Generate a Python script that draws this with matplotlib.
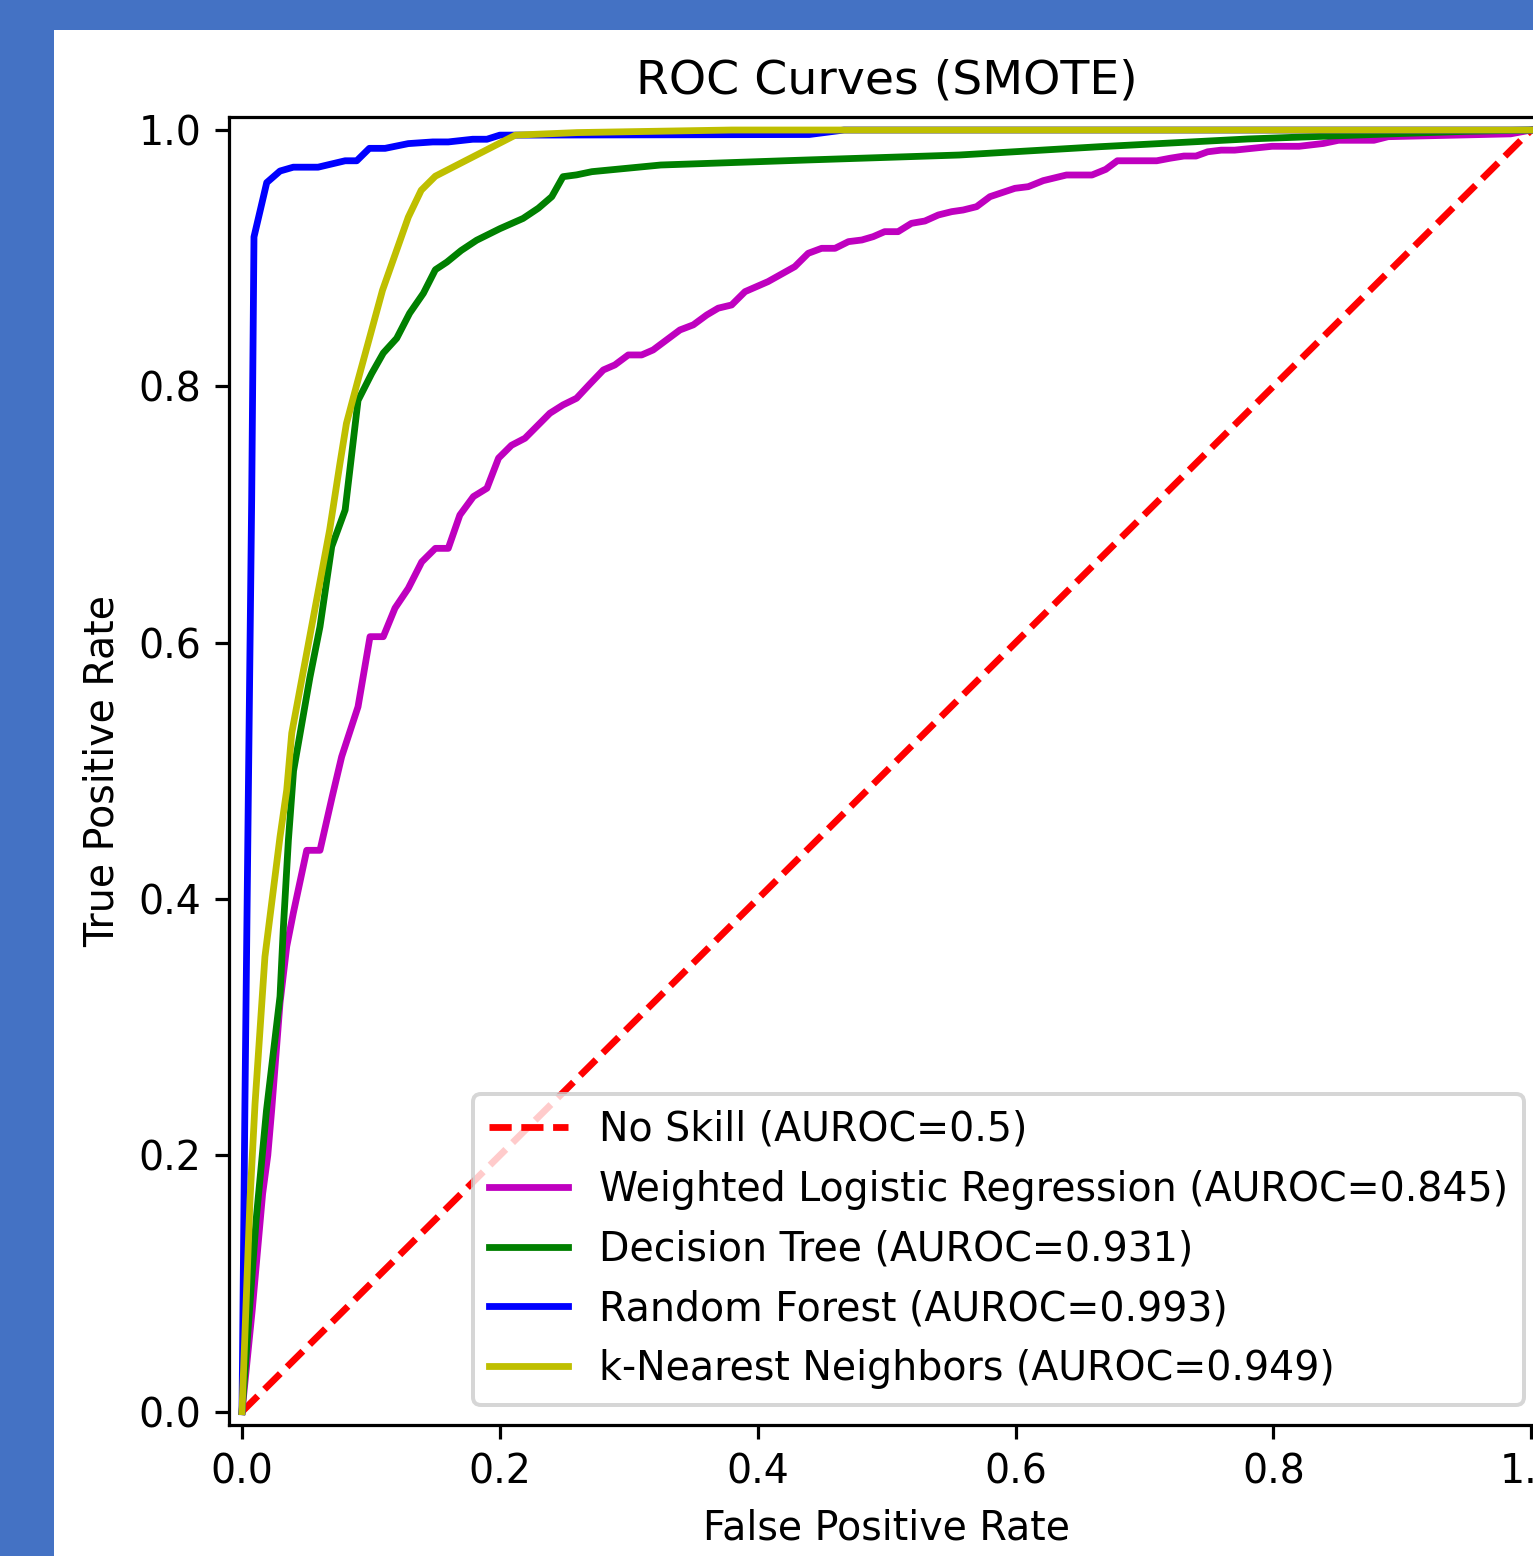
import matplotlib
matplotlib.use("Agg")
import matplotlib.pyplot as plt
from matplotlib.patches import Rectangle

# ---------------- data ----------------
noskill_fpr = [0.0, 1.0]
noskill_tpr = [0.0, 1.0]

wlr_fpr = [0.0, 0.008, 0.016, 0.020, 0.023, 0.0295, 0.0347, 0.0398, 0.0502, 0.0605,
           0.0700, 0.0773, 0.090, 0.0993, 0.1096, 0.1187, 0.129, 0.1394, 0.150, 0.160,
           0.169, 0.1795, 0.190, 0.199, 0.209, 0.2195, 0.2388, 0.249, 0.2595, 0.270,
           0.2803, 0.2892, 0.2996, 0.310, 0.3189, 0.3293, 0.3397, 0.3501, 0.3605, 0.3694,
           0.3798, 0.3902, 0.408, 0.4288, 0.4392, 0.4496, 0.460, 0.4704, 0.4808, 0.4896,
           0.4985, 0.5089, 0.5193, 0.5297, 0.5401, 0.5505, 0.5594, 0.5698, 0.5802, 0.5995,
           0.6099, 0.6215, 0.6395, 0.6593, 0.670, 0.679, 0.7095, 0.720, 0.7306, 0.740,
           0.749, 0.7595, 0.770, 0.799, 0.820, 0.8387, 0.8506, 0.878, 0.889, 0.984, 1.0]
wlr_tpr = [0.0, 0.08, 0.17, 0.20, 0.235, 0.319, 0.363, 0.389, 0.438, 0.438,
           0.480, 0.511, 0.550, 0.6047, 0.6047, 0.627, 0.6424, 0.663, 0.6736, 0.6736,
           0.6996, 0.714, 0.7205, 0.744, 0.754, 0.7595, 0.779, 0.7855, 0.7907, 0.802,
           0.8128, 0.8167, 0.8245, 0.8245, 0.8284, 0.8362, 0.844, 0.848, 0.8557, 0.861,
           0.8635, 0.8739, 0.8817, 0.8934, 0.9038, 0.9077, 0.9077, 0.9129, 0.9142, 0.9168,
           0.9207, 0.9207, 0.9272, 0.929, 0.9337, 0.9363, 0.9376, 0.9402, 0.948, 0.9545,
           0.9558, 0.9605, 0.9649, 0.9649, 0.9693, 0.976, 0.976, 0.978, 0.9797, 0.9797,
           0.983, 0.9843, 0.9843, 0.9873, 0.9873, 0.9895, 0.992, 0.992, 0.9948, 0.997, 1.0]

dt_fpr = [0.0, 0.011, 0.019, 0.0295, 0.032, 0.036, 0.040, 0.0527, 0.0605, 0.0696,
          0.080, 0.090, 0.1006, 0.1096, 0.120, 0.130, 0.1407, 0.150, 0.159, 0.170,
          0.182, 0.200, 0.218, 0.2299, 0.2403, 0.249, 0.2595, 0.2714, 0.3248, 0.4377,
          0.5564, 0.6656, 0.78, 0.891, 0.95, 1.0]
dt_tpr = [0.0, 0.15, 0.235, 0.324, 0.376, 0.446, 0.50, 0.573, 0.6125, 0.675,
          0.7035, 0.789, 0.810, 0.826, 0.8375, 0.857, 0.8726, 0.891, 0.897, 0.906,
          0.914, 0.923, 0.931, 0.939, 0.948, 0.9636, 0.965, 0.9675, 0.9727, 0.9766,
          0.9805, 0.987, 0.993, 0.997, 0.999, 1.0]

rf_fpr = [0.0, 0.0023, 0.0049, 0.0075, 0.0093, 0.0192, 0.0295, 0.0398, 0.059, 0.080,
          0.089, 0.0988, 0.111, 0.129, 0.148, 0.160, 0.179, 0.190, 0.200, 0.44,
          0.467, 1.0]
rf_tpr = [0.0, 0.243, 0.48, 0.711, 0.9166, 0.959, 0.968, 0.971, 0.971, 0.976,
          0.976, 0.9857, 0.9857, 0.9894, 0.9907, 0.9907, 0.9928, 0.9928, 0.996, 0.9965,
          1.0, 1.0]

knn_fpr = [0.0, 0.0062, 0.0101, 0.0178, 0.0295, 0.0347, 0.0386, 0.068, 0.076, 0.081,
           0.090, 0.109, 0.129, 0.139, 0.150, 0.212, 0.26, 0.38, 1.0]
knn_tpr = [0.0, 0.165, 0.24, 0.355, 0.4486, 0.485, 0.5295, 0.688, 0.74, 0.771,
           0.805, 0.875, 0.932, 0.953, 0.964, 0.996, 0.998, 1.0, 1.0]

labels = ["No Skill (AUROC=0.5)",
          "Weighted Logistic Regression (AUROC=0.845)",
          "Decision Tree (AUROC=0.931)",
          "Random Forest (AUROC=0.993)",
          "k-Nearest Neighbors (AUROC=0.949)"]

# ---------------- figure ----------------
plt.rcParams["font.size"] = 9.88

W, H, DPI = 1533, 1556, 288
fig = plt.figure(figsize=(W / DPI, H / DPI), dpi=DPI)
fig.patch.set_facecolor("#4472C4")
fig.add_artist(Rectangle((54 / W, 0), 1, (H - 30) / H, transform=fig.transFigure,
                         facecolor="white", edgecolor="none", zorder=-5))

left, right, top, bottom = 229.1, 1544.1, 117.2, 1424.5
ax = fig.add_axes([left / W, (H - bottom) / H, (right - left) / W, (bottom - top) / H])

LW = 1.7
ax.plot(noskill_fpr, noskill_tpr, color="r", linestyle="--", lw=LW,
        dashes=(5.55 / LW, 2.4 / LW), label=labels[0])
ax.plot(wlr_fpr, wlr_tpr, color="m", lw=LW, label=labels[1])
ax.plot(dt_fpr, dt_tpr, color="g", lw=LW, label=labels[2])
ax.plot(rf_fpr, rf_tpr, color="b", lw=LW, label=labels[3])
ax.plot(knn_fpr, knn_tpr, color="y", lw=LW, label=labels[4])

ax.set_xlim(-0.01, 1.01)
ax.set_ylim(-0.01, 1.01)
ax.set_xlabel("False Positive Rate")
ax.set_ylabel("True Positive Rate")
ax.set_title("ROC Curves (SMOTE)")
ax.legend(loc="lower right")

fig.savefig("out.png", dpi=DPI, facecolor=fig.get_facecolor())
